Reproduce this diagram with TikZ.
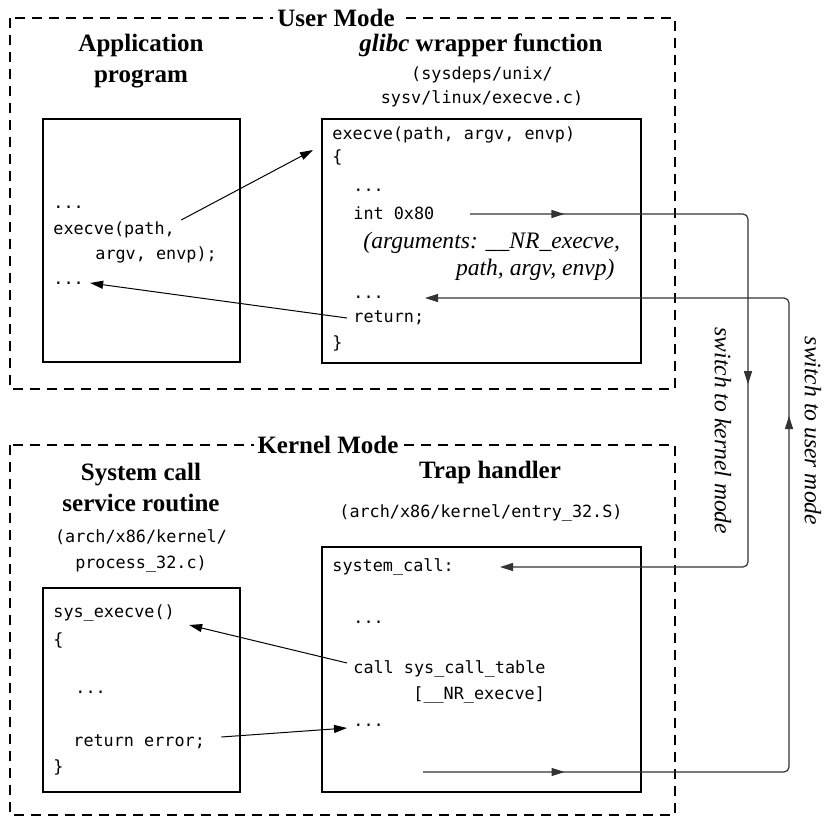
\documentclass[tikz,border=0pt]{standalone}
\usepackage{fontspec}
\setmainfont{Liberation Serif}
\setmonofont{DejaVu Sans Mono}
\usepackage{tikz}
\usetikzlibrary{arrows.meta}
\usetikzlibrary{decorations.markings}
\tikzset{
	modebox/.style={draw=black, line width=1pt, dash pattern=on 5pt off 3.5pt},
	modelabel/.style={fill=white, inner sep=2pt, font=\bfseries\fontsize{12.5}{15}\selectfont},
	codebox/.style={draw=black, line width=1.3pt, minimum width=98.5pt},
	heading/.style={align=center, font=\bfseries\fontsize{12.5}{15.5}\selectfont},
	srcfile/.style={align=center, font=\ttfamily\fontsize{8.4}{12}\selectfont},
	codeline/.style={anchor=west, inner sep=3pt, font=\ttfamily\fontsize{8.4}{10}\selectfont},
	argnote/.style={inner sep=3pt, font=\itshape\fontsize{11.8}{14}\selectfont},
	switchlabel/.style={rotate=-90, inner sep=0pt, font=\itshape\fontsize{11.8}{14}\selectfont},
	callarrow/.style={draw=black, line width=0.5pt, -{Triangle[length=6.5pt,width=4pt]}},
	modeswitch/.style 2 args={draw=black!80, line width=0.6pt, rounded corners=2.5pt, -{Triangle[length=6.5pt,width=4pt]}, postaction={decorate}, decoration={markings,mark=at position #1 with {\arrow{Triangle[length=6.5pt,width=4pt]}},mark=at position #2 with {\arrow{Triangle[length=6.5pt,width=4pt]}}}}
}
\begin{document}
\begin{tikzpicture}[x=0.5pt, y=-0.5pt]
	\useasboundingbox (0,0) rectangle (824,819);

	\draw[modebox] (10,18) rectangle (675,389);
	\node[modelabel] (user) at (336,18) {User Mode};
	\draw[modebox] (10,445) rectangle (675,815);
	\node[modelabel] (kernel) at (328,445) {Kernel Mode};

	\node[heading] (apptitle) at (141,61) {Application\\program};
	\node[heading] (wraptitle) at (481,45) {\textit{glibc} wrapper function};
	\node[srcfile] (wrapfile) at (482,87) {(sysdeps/unix/\\sysv/linux/execve.c)};
	\node[heading] (systitle) at (141,487) {System call\\service routine};
	\node[srcfile, font=\ttfamily\fontsize{8.4}{13}\selectfont] (sysfile) at (141,551) {(arch/x86/kernel/\\process\_32.c)};
	\node[heading] (traptitle) at (490,472) {Trap handler};
	\node[srcfile] (trapfile) at (481,513) {(arch/x86/kernel/entry\_32.S)};

	\node[codebox, minimum height=121.5pt] (appbox) at (141.5,240.5) {};
	\node[codebox, minimum width=159.5pt, minimum height=122pt] (wrapbox) at (481.5,241) {};
	\node[codebox, minimum height=102pt] (sysbox) at (141.5,690) {};
	\node[codebox, minimum width=159.5pt, minimum height=122.5pt] (trapbox) at (481.5,669.5) {};

	\node[codeline] (appdots1) at (47,207) {...};
	\node[codeline] (appcall) at (47,230) {execve(path,};
	\node[codeline] (appargs) at (89,255) {argv, envp);};
	\node[codeline] (appdots2) at (47,283) {...};

	\node[codeline] (wrapsig) at (326,135) {execve(path, argv, envp)};
	\node[codeline] (wrapopen) at (326,157) {\{};
	\node[codeline] (wrapdots1) at (347,190) {...};
	\node[codeline] (wrapint) at (347,213) {int 0x80};
	\node[argnote, anchor=west] (wrapargs1) at (357,243) {(arguments: \_\_NR\_execve,};
	\node[argnote, anchor=east] (wrapargs2) at (621,270) {path, argv, envp)};
	\node[codeline] (wrapdots2) at (347,297) {...};
	\node[codeline] (wrapret) at (347,318) {return;};
	\node[codeline] (wrapclose) at (326,343) {\}};

	\node[codeline] (sysname) at (47,613) {sys\_execve()};
	\node[codeline] (sysopen) at (47,640) {\{};
	\node[codeline] (sysdots) at (69,692) {...};
	\node[codeline] (syserr) at (67,742) {return error;};
	\node[codeline] (sysclose) at (47,767) {\}};

	\node[codeline] (trapentry) at (326,567) {system\_call:};
	\node[codeline] (trapdots1) at (347,622) {...};
	\node[codeline] (trapcall) at (347,669) {call sys\_call\_table};
	\node[codeline] (trapindex) at (407,695) {[\_\_NR\_execve]};
	\node[codeline] (trapdots2) at (347,725) {...};

	\coordinate (wrapin) at (313,150);
	\coordinate (intout) at (470,214);
	\coordinate (kernelrail) at (748,390);
	\coordinate (trapin) at (500,567);
	\coordinate (trapout) at (423,772);
	\coordinate (userrail) at (789,540);
	\coordinate (wrapback) at (425,298);

	\draw[callarrow] ([yshift=5pt]appcall.east) -- (wrapin);
	\draw[callarrow] (wrapret.west) -- (appdots2.east);
	\draw[callarrow] ([yshift=3pt]trapcall.west) -- ([shift={(4pt,-6pt)}]sysname.east);
	\draw[callarrow] ([shift={(5pt,2.5pt)}]syserr.east) -- ([yshift=-1.5pt]trapdots2.west);

	\draw[modeswitch={0.108}{0.51}] (intout) -| (kernelrail) |- (trapin);
	\draw[modeswitch={0.118}{0.6}] (trapout) -| (userrail) |- (wrapback);

	\node[switchlabel] (tokernel) at (723,431) {switch to kernel mode};
	\node[switchlabel] (touser) at (813,431) {switch to user mode};
\end{tikzpicture}
\end{document}
